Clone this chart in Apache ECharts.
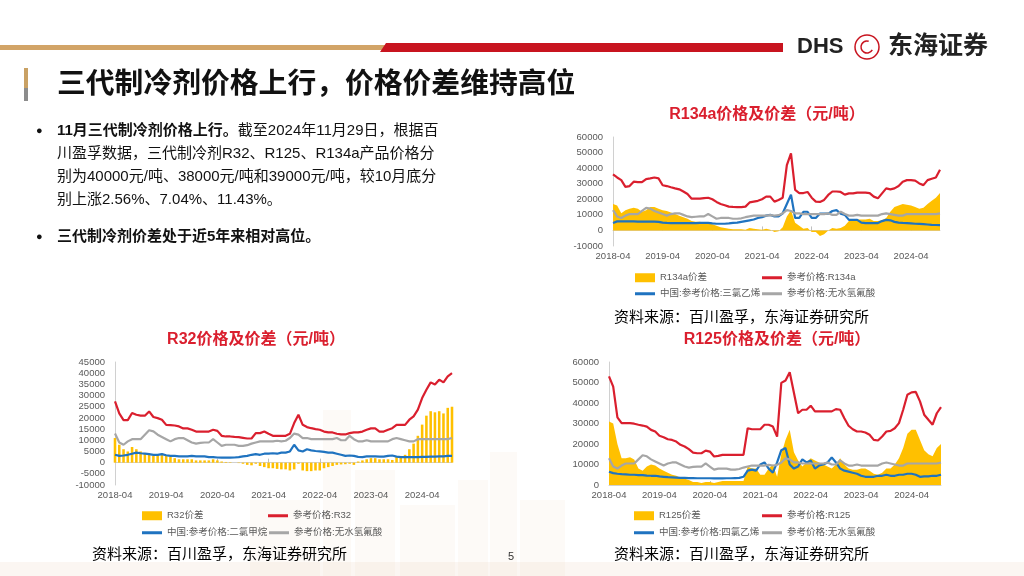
<!DOCTYPE html>
<html>
<head>
<meta charset="utf-8">
<script src="https://cdn.jsdelivr.net/npm/echarts@6/dist/echarts.min.js"></script>
<style>
html,body{margin:0;padding:0;background:#fff;}
#main{width:1024px;height:576px;}
</style>
</head>
<body>
<div id="main"></div>
<script>
// 月份 2018-04 ~ 2024-11
var months = [];
for (var y = 2018; y <= 2024; y++) {
	for (var m = 1; m <= 12; m++) {
		if ((y == 2018 && m < 4) || (y == 2024 && m > 11)) continue;
		months.push(y + '-' + (m < 10 ? '0' + m : m));
	}
}

// 无水氢氟酸 (三张图共用)
var hfPrice = [
	13000, 9000, 8000, 9500, 10500, 10500, 10500, 12500, 14500,
	14000, 12500, 11500, 10500, 9500, 10500, 11000, 11000, 10000, 9000, 8500, 8800,
	9000, 9000, 10500, 9000, 7500, 8000, 8000, 8000, 7500, 7500, 7800, 8500,
	9000, 9500, 9500, 9500, 9500, 9800, 9500, 9800, 11000, 13000, 12500, 11000,
	11000, 10500, 10500, 10500, 10500, 10500, 10500, 11000, 10000, 10000, 12000, 10500,
	9500, 9500, 10000, 9500, 9500, 9500, 9500, 9500, 10500, 11000, 10500, 10000,
	9500, 9500, 10500, 10500, 10500, 10500, 10500, 10500, 10500, 10500, 11000
];

// R134a
var r134aPrice = [
	36000, 34000, 32300, 28000, 28500, 31300, 31000, 31000, 33000,
	33400, 34000, 33400, 29000, 28500, 27700, 27000, 26400, 25000, 23400, 20400, 20400,
	20400, 20800, 21000, 20000, 18300, 17000, 16200, 15300, 15100, 15000, 15000, 15300,
	18000, 18500, 19000, 20000, 21700, 21700, 18500, 19600, 21000, 42000, 49500, 26000,
	24000, 24000, 24700, 21000, 18500, 18300, 19600, 22800, 25000, 25000, 24700, 23000,
	23800, 23800, 24300, 24300, 24300, 24000, 21700, 20600, 23800, 27000, 26400, 27000,
	28500, 31300, 32300, 32300, 32000, 30200, 29100, 32300, 33200, 34000, 39000
];
var r134aTce = [
	4800, 5800, 5800, 5800, 5800, 5800, 5700, 5700, 5700,
	5600, 5600, 5500, 5000, 4800, 4700, 4700, 4700, 4700, 4700, 4700, 4700,
	4800, 4800, 4800, 4500, 4300, 4300, 4300, 4500, 4800, 5000, 5500, 6000,
	6500, 7000, 8000, 8500, 9500, 10000, 9000, 9000, 11000, 17000, 23000, 8000,
	8000, 12000, 12000, 8000, 8000, 10800, 10800, 10800, 12500, 13000, 10800, 10000,
	6800, 6800, 6800, 5000, 4700, 4700, 4700, 4700, 6000, 6800, 6500, 5500,
	5000, 4800, 4700, 4500, 4300, 4200, 4000, 3800, 3600, 3500, 3400
];
var r134aSpread = [
	17000, 16000, 11000, 13000, 14000, 14500, 14000, 12000, 13000,
	15000, 15000, 14000, 13000, 12500, 11500, 10500, 9500, 8500, 7500, 6000, 5500,
	5500, 5000, 4500, 4000, 3000, 2000, 1500, 1000, 800, 800, 800, 500,
	1500, 1000, 800, 500, 1000, 500, -1000, -500, 2000, 9000, 13000, 5000,
	3000, 1000, 1500, -1000, -1000, -3500, -2500, 0, 1500, 1000, 1500, 3000,
	6000, 7000, 7000, 7000, 7000, 7500, 6000, 6000, 6500, 8000, 12000, 15000,
	16000, 17000, 16500, 16000, 15000, 14000, 14500, 17000, 19000, 21000, 24000
];

// R32
var r32Price = [
	27400, 22000, 19000, 19000, 22200, 21400, 21000, 21000, 22900,
	20400, 19900, 19200, 16900, 16800, 16600, 16200, 15300, 15300, 14700, 13900, 13900,
	13900, 13900, 14700, 14200, 12000, 11700, 11700, 11500, 11400, 11100, 10800, 10800,
	13200, 13200, 13900, 12900, 12000, 12000, 12000, 12000, 12900, 17700, 21400, 16900,
	15900, 15400, 15000, 14700, 13900, 13500, 13500, 12900, 12600, 12600, 13200, 13500,
	13500, 13900, 14700, 15300, 15300, 13900, 13900, 14700, 15400, 16900, 16900, 16900,
	19200, 20700, 23700, 28900, 32600, 35900, 34900, 37100, 35900, 38600, 40000
];
var r32Dcm = [
	3500, 3000, 3200, 3500, 4000, 4500, 4200, 4000, 3800,
	3500, 3500, 3800, 3300, 3000, 3000, 2800, 2800, 2800, 3000, 2800, 2800,
	2800, 2500, 2500, 2300, 2200, 2200, 2200, 2300, 2500, 2800, 3000, 3500,
	3800, 3500, 4000, 4000, 4200, 4000, 4500, 4500, 5000, 8000, 5500, 5000,
	6000, 5500, 5200, 5000, 4800, 4500, 4500, 4000, 3500, 3000, 3200, 3000,
	2600, 2500, 2800, 2800, 2800, 2700, 2700, 3000, 3200, 2700, 2500, 2500,
	2500, 2500, 2500, 2600, 2600, 2700, 2700, 2800, 2800, 3000, 3000
];
var r32Spread = [
	11000, 8000, 6000, 5000, 7000, 6000, 5000, 4000, 3500,
	3000, 3500, 4000, 3000, 2500, 2000, 1500, 1500, 1500, 1500, 1000, 1000,
	1000, 1000, 1500, 1000, 500, 300, 200, 0, -200, -500, -1000, -1200,
	-500, -1500, -2000, -2500, -2500, -2800, -3000, -3000, -3500, -3000, -500, -3500,
	-3800, -3800, -3500, -3500, -2500, -2000, -1500, -1000, -800, -700, -500, -1000,
	500, 1000, 1500, 2000, 2000, 1500, 1500, 1500, 1200, 2500, 3000, 3500,
	6000, 8500, 12000, 17000, 21000, 23000, 22500, 23000, 22000, 24500, 25000
];

// R125
var r125Price = [
	53000, 48000, 33000, 30200, 30200, 30200, 29900, 29400, 29000,
	28500, 26900, 26100, 24000, 23300, 22300, 22000, 21200, 19600, 18800, 17500, 15800,
	15500, 15500, 16800, 16300, 13900, 14200, 14700, 14700, 14700, 14700, 14700, 14700,
	27700, 27200, 27200, 27200, 29400, 29400, 28500, 23600, 49800, 51000, 55000, 45000,
	35000, 36700, 36700, 38700, 35900, 35900, 35900, 35900, 35900, 37000, 36700, 32600,
	28900, 27200, 26100, 26100, 25600, 24500, 22000, 21700, 23700, 26100, 26400, 27700,
	30200, 36700, 44000, 45200, 45400, 40800, 34300, 31800, 29400, 35000, 38000
];
var r125Pce = [
	6500, 5800, 5500, 5300, 5200, 5000, 5000, 4800, 4800,
	4600, 4500, 4500, 4200, 4000, 3800, 3700, 3600, 3500, 3500, 3400, 3400,
	3300, 3300, 3300, 3300, 3200, 3200, 3200, 3300, 3300, 3400, 3500, 4000,
	7000, 7500, 7000, 10000, 11000, 8000, 6000, 11000, 17000, 18000, 10000, 8000,
	9000, 12500, 11000, 12000, 8000, 9500, 10000, 11000, 13500, 11000, 8000, 7000,
	6500, 6000, 5500, 4500, 4000, 4000, 4000, 4500, 4500, 5000, 4500, 4500,
	5000, 5000, 5500, 5500, 5000, 4000, 4200, 4200, 4500, 4500, 5000
];
var r125Spread = [
	31000, 30000, 20000, 13000, 13000, 13500, 12500, 8000, 7000,
	9000, 10000, 9500, 8000, 7000, 6000, 5000, 4500, 3500, 3000, 2500, 1500,
	1500, 1000, 1500, 1500, 1000, 1500, 2000, 2000, 2000, 2000, 2000, 2000,
	9000, 8000, 8000, 5000, 5000, 8000, 10000, 4000, 15000, 22000, 27000, 16000,
	12000, 9000, 11000, 13000, 12000, 11000, 10000, 9000, 8000, 10000, 13000, 10000,
	8000, 7500, 7500, 8000, 8000, 7000, 5500, 5000, 6000, 8000, 8000, 10000,
	13000, 18000, 25000, 27000, 27000, 22000, 17000, 15000, 14000, 18000, 20000
];

var FONT = '"Liberation Sans", "Noto Sans CJK SC", sans-serif';
var RED = '#DA1F2E', BLUE = '#1F73C0', GRAY = '#A6A6A6', YELLOW = '#FFC000';

var myChart = echarts.init(document.getElementById('main'));

var grids = [
	{left: 613, top: 137, width: 327, height: 109},   // R134a
	{left: 115, top: 362, width: 337, height: 123},   // R32
	{left: 609, top: 362, width: 332, height: 123}    // R125
];
var yRanges = [[-10000, 60000, 10000], [-10000, 45000, 5000], [0, 60000, 10000]];

var xAxes = [], yAxes = [];
for (var i = 0; i < 3; i++) {
	// 标签轴 (底部)
	xAxes.push({
		type: 'category', gridIndex: i, data: months, boundaryGap: false,
		axisLine: {show: false, onZero: false}, axisTick: {show: false},
		axisLabel: {
			interval: function(idx){ return idx % 12 === 0; },
			fontSize: 9.5, color: '#595959', fontFamily: FONT, margin: 6
		}
	});
	// 零轴
	xAxes.push({
		type: 'category', gridIndex: i, data: months, boundaryGap: false,
		axisLine: {show: true, onZero: true, lineStyle: {color: '#D0D0D0', width: 1}},
		axisTick: {show: true, interval: function(idx){ return idx % 12 === 0; }, length: 4, lineStyle: {color: '#BFBFBF'}},
		axisLabel: {show: false}
	});
	yAxes.push({
		type: 'value', gridIndex: i,
		min: yRanges[i][0], max: yRanges[i][1], interval: yRanges[i][2],
		splitLine: {show: false},
		axisLine: {show: true, lineStyle: {color: '#D0D0D0'}},
		axisTick: {show: false},
		axisLabel: {
			fontSize: 9.5, color: '#595959', fontFamily: FONT, margin: 10,
			formatter: function(v){ return String(v); }
		}
	});
}

function area(name, data, gi){
	return {
		name: name, type: 'line', data: data, xAxisIndex: gi * 2, yAxisIndex: gi,
		symbol: 'none', lineStyle: {width: 0}, itemStyle: {color: YELLOW},
		areaStyle: {color: YELLOW, opacity: 1}, z: 1
	};
}
function line(name, data, color, gi, z){
	return {
		name: name, type: 'line', data: data, xAxisIndex: gi * 2, yAxisIndex: gi,
		symbol: 'none', lineStyle: {color: color, width: 2.2}, itemStyle: {color: color}, z: z
	};
}

var series = [
	area('R134a价差', r134aSpread, 0),
	line('参考价格:R134a', r134aPrice, RED, 0, 4),
	line('中国:参考价格:三氯乙烯', r134aTce, BLUE, 0, 2),
	line('参考价格:无水氢氟酸', hfPrice, GRAY, 0, 3),

	{
		name: 'R32价差', type: 'bar', data: r32Spread, xAxisIndex: 2, yAxisIndex: 1,
		barWidth: '60%', itemStyle: {color: YELLOW}, z: 1
	},
	line('参考价格:R32', r32Price, RED, 1, 4),
	line('中国:参考价格:二氯甲烷', r32Dcm, BLUE, 1, 2),
	line('参考价格:无水氢氟酸', hfPrice, GRAY, 1, 3),

	area('R125价差', r125Spread, 2),
	line('参考价格:R125', r125Price, RED, 2, 4),
	line('中国:参考价格:四氯乙烯', r125Pce, BLUE, 2, 2),
	line('参考价格:无水氢氟酸', hfPrice, GRAY, 2, 3)
];

// 图例：每项单独定位，两列两行
function leg(name, left, cy, h){
	return {
		data: [{name: name, icon: 'rect'}], left: left, top: cy - 6, padding: 0,
		itemWidth: 20, itemHeight: h, selectedMode: false,
		textStyle: {fontSize: 9.5, color: '#595959', fontFamily: FONT}
	};
}
var legends = [
	leg('R134a价差', 635, 279, 9), leg('参考价格:R134a', 762, 279, 3),
	leg('中国:参考价格:三氯乙烯', 635, 295, 3), leg('参考价格:无水氢氟酸', 762, 295, 3),
	leg('R32价差', 142, 517, 9), leg('参考价格:R32', 268, 517, 3),
	leg('中国:参考价格:二氯甲烷', 142, 534, 3), leg('参考价格:无水氢氟酸', 269, 534, 3),
	leg('R125价差', 634, 517, 9), leg('参考价格:R125', 762, 517, 3),
	leg('中国:参考价格:四氯乙烯', 634, 534, 3), leg('参考价格:无水氢氟酸', 762, 534, 3)
];

function txt(text, x, y, size, color, weight, align){
	return {
		type: 'text', silent: true,
		style: {
			text: text, x: x, y: y, fill: color || '#000',
			font: (weight || 'normal') + ' ' + size + 'px ' + FONT,
			textAlign: align || 'left', textVerticalAlign: 'middle'
		}
	};
}
function bg(x, y, w, h, c){
	return {type: 'rect', silent: true, z: -10, shape: {x: x, y: y, width: w, height: h}, style: {fill: c}};
}

var bodyLines = [
	'截至2024年11月29日，根据百',
	'川盈孚数据，三代制冷剂R32、R125、R134a产品价格分',
	'别为40000元/吨、38000元/吨和39000元/吨，较10月底分',
	'别上涨2.56%、7.04%、11.43%。'
];

var SKY = 'rgba(236,214,196,0.13)';
var graphics = [
	// 背景城市剪影 (淡)
	bg(250, 500, 70, 76, SKY), bg(323, 410, 28, 166, SKY), bg(355, 470, 40, 106, SKY),
	bg(400, 505, 55, 71, SKY), bg(458, 480, 30, 96, SKY), bg(490, 452, 27, 124, SKY),
	bg(520, 500, 45, 76, SKY), bg(0, 562, 1024, 14, 'rgba(236,214,196,0.22)'),
	// 顶部色条
	{type: 'rect', silent: true, shape: {x: 0, y: 45, width: 386, height: 5}, style: {fill: '#D2A467'}},
	{type: 'polygon', silent: true, shape: {points: [[386, 43], [783, 43], [783, 52], [380, 52]]}, style: {fill: '#C8141F'}},
	// logo
	txt('DHS', 797, 47, 22, '#222', 'bold'),
	{type: 'circle', silent: true, shape: {cx: 867, cy: 47, r: 12}, style: {fill: 'none', stroke: '#C8141F', lineWidth: 1.5}},
	{type: 'arc', silent: true, shape: {cx: 867, cy: 47, r: 6, startAngle: 0.5, endAngle: 5}, style: {fill: 'none', stroke: '#C8141F', lineWidth: 1.5}},
	txt('东海证券', 888, 47, 25, '#222', 'bold'),
	// 标题
	{type: 'rect', silent: true, shape: {x: 24, y: 68, width: 4, height: 20}, style: {fill: '#C9A164'}},
	{type: 'rect', silent: true, shape: {x: 24, y: 88, width: 4, height: 13}, style: {fill: '#8C8C8C'}},
	txt('三代制冷剂价格上行，价格价差维持高位', 57, 85, 28.8, '#111', 'bold'),
	// 正文
	txt('●', 36, 131, 11, '#111'),
	{
		type: 'text', silent: true,
		style: {
			text: '{b|11月三代制冷剂价格上行。}{n|' + bodyLines[0] + '}', x: 57, y: 131,
			textVerticalAlign: 'middle',
			rich: {
				b: {font: 'bold 15px ' + FONT, fill: '#111'},
				n: {font: 'normal 15px ' + FONT, fill: '#111'}
			}
		}
	},
	txt(bodyLines[1], 57, 154, 15, '#111'),
	txt(bodyLines[2], 57, 177, 15, '#111'),
	txt(bodyLines[3], 57, 200, 15, '#111'),
	txt('●', 36, 237, 11, '#111'),
	txt('三代制冷剂价差处于近5年来相对高位。', 57, 237, 15, '#111', 'bold'),
	// 图表标题
	txt('R134a价格及价差（元/吨）', 767, 115, 16, RED, 'bold', 'center'),
	txt('R32价格及价差（元/吨）', 256, 340, 16, RED, 'bold', 'center'),
	txt('R125价格及价差（元/吨）', 777, 340, 16, RED, 'bold', 'center'),
	// 资料来源
	txt('资料来源：百川盈孚，东海证券研究所', 614, 318, 15, '#000'),
	txt('资料来源：百川盈孚，东海证券研究所', 92, 555, 15, '#000'),
	txt('资料来源：百川盈孚，东海证券研究所', 614, 555, 15, '#000'),
	// 页码
	txt('5', 511, 557, 11, '#333', 'normal', 'center')
];

myChart.setOption({
	backgroundColor: '#fff',
	animation: false,
	grid: grids,
	xAxis: xAxes,
	yAxis: yAxes,
	legend: legends,
	series: series,
	graphic: graphics
});
</script>
</body>
</html>
